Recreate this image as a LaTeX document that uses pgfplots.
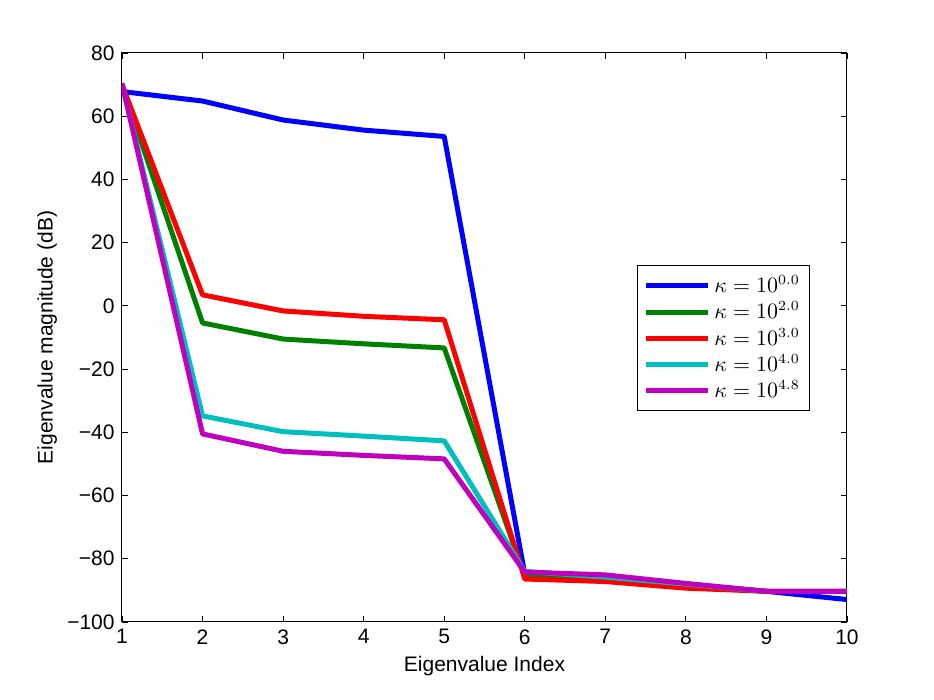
\documentclass[border=0pt]{standalone}
\usepackage{fontspec}
\setmainfont{Liberation Sans}
\usepackage{pgfplots}
\pgfplotsset{compat=1.18}
\definecolor{mblue}{rgb}{0,0,1}
\definecolor{mgreen}{rgb}{0,0.5,0}
\definecolor{mred}{rgb}{1,0,0}
\definecolor{mcyan}{rgb}{0,0.75,0.75}
\definecolor{mmag}{rgb}{0.75,0,0.75}
\begin{document}
\fontsize{10.5}{12}\selectfont
\begin{tikzpicture}
\path[use as bounding box] (0,0) rectangle (467pt,350pt);
\begin{axis}[
  at={(61pt,39pt)}, anchor=south west,
  scale only axis, width=362.5pt, height=284.5pt,
  xmin=1, xmax=10, ymin=-100, ymax=80,
  xtick={1,...,10}, ytick={-100,-80,-60,-40,-20,0,20,40,60,80},
  yticklabels={−100,−80,−60,−40,−20,0,20,40,60,80},
  tick align=inside, tick pos=both,
  major tick length=3pt,
  tick style={black, line width=0.4pt},
  axis line style={line width=0.5pt},
  /pgf/number format/assume math mode=true,
  ticklabel style={font=\fontsize{10.5}{12}\selectfont},
  xlabel={Eigenvalue Index}, ylabel={Eigenvalue magnitude (dB)},
  label style={font=\fontsize{10.5}{12}\selectfont},
  xlabel style={yshift=1pt},
  ylabel style={yshift=-2pt},
  legend style={at={(0.71,0.627)}, anchor=north west, draw=black, line width=0.6pt,
    font=\fontsize{10.5}{13}\selectfont, inner sep=3pt, row sep=-1pt},
  legend cell align=left,
  legend image code/.code={\draw[#1, line width=2.5pt] (0pt,0pt) -- (31pt,0pt);},
  every axis plot/.append style={line width=2.5pt, line join=round},
]
\addplot[color=mblue] coordinates {(1,67.8) (2,64.8) (3,58.8) (4,55.6) (5,53.6) (6,-84.8) (7,-86.0) (8,-88.2) (9,-90.3) (10,-92.9)};
\addlegendentry{$\kappa=10^{0.0}$}
\addplot[color=mgreen] coordinates {(1,69.8) (2,-5.4) (3,-10.5) (4,-12.0) (5,-13.3) (6,-85.5) (7,-86.3) (8,-88.5) (9,-90.3) (10,-90.3)};
\addlegendentry{$\kappa=10^{2.0}$}
\addplot[color=mred] coordinates {(1,70.0) (2,3.5) (3,-1.6) (4,-3.3) (5,-4.4) (6,-86.4) (7,-87.2) (8,-89.3) (9,-90.3) (10,-90.3)};
\addlegendentry{$\kappa=10^{3.0}$}
\addplot[color=mcyan] coordinates {(1,70.2) (2,-34.8) (3,-39.8) (4,-41.2) (5,-42.7) (6,-84.0) (7,-85.8) (8,-88.0) (9,-90.3) (10,-90.3)};
\addlegendentry{$\kappa=10^{4.0}$}
\addplot[color=mmag] coordinates {(1,70.4) (2,-40.5) (3,-46.0) (4,-47.3) (5,-48.4) (6,-84.2) (7,-85.1) (8,-87.8) (9,-90.3) (10,-90.3)};
\addlegendentry{$\kappa=10^{4.8}$}
\end{axis}
\end{tikzpicture}
\end{document}
